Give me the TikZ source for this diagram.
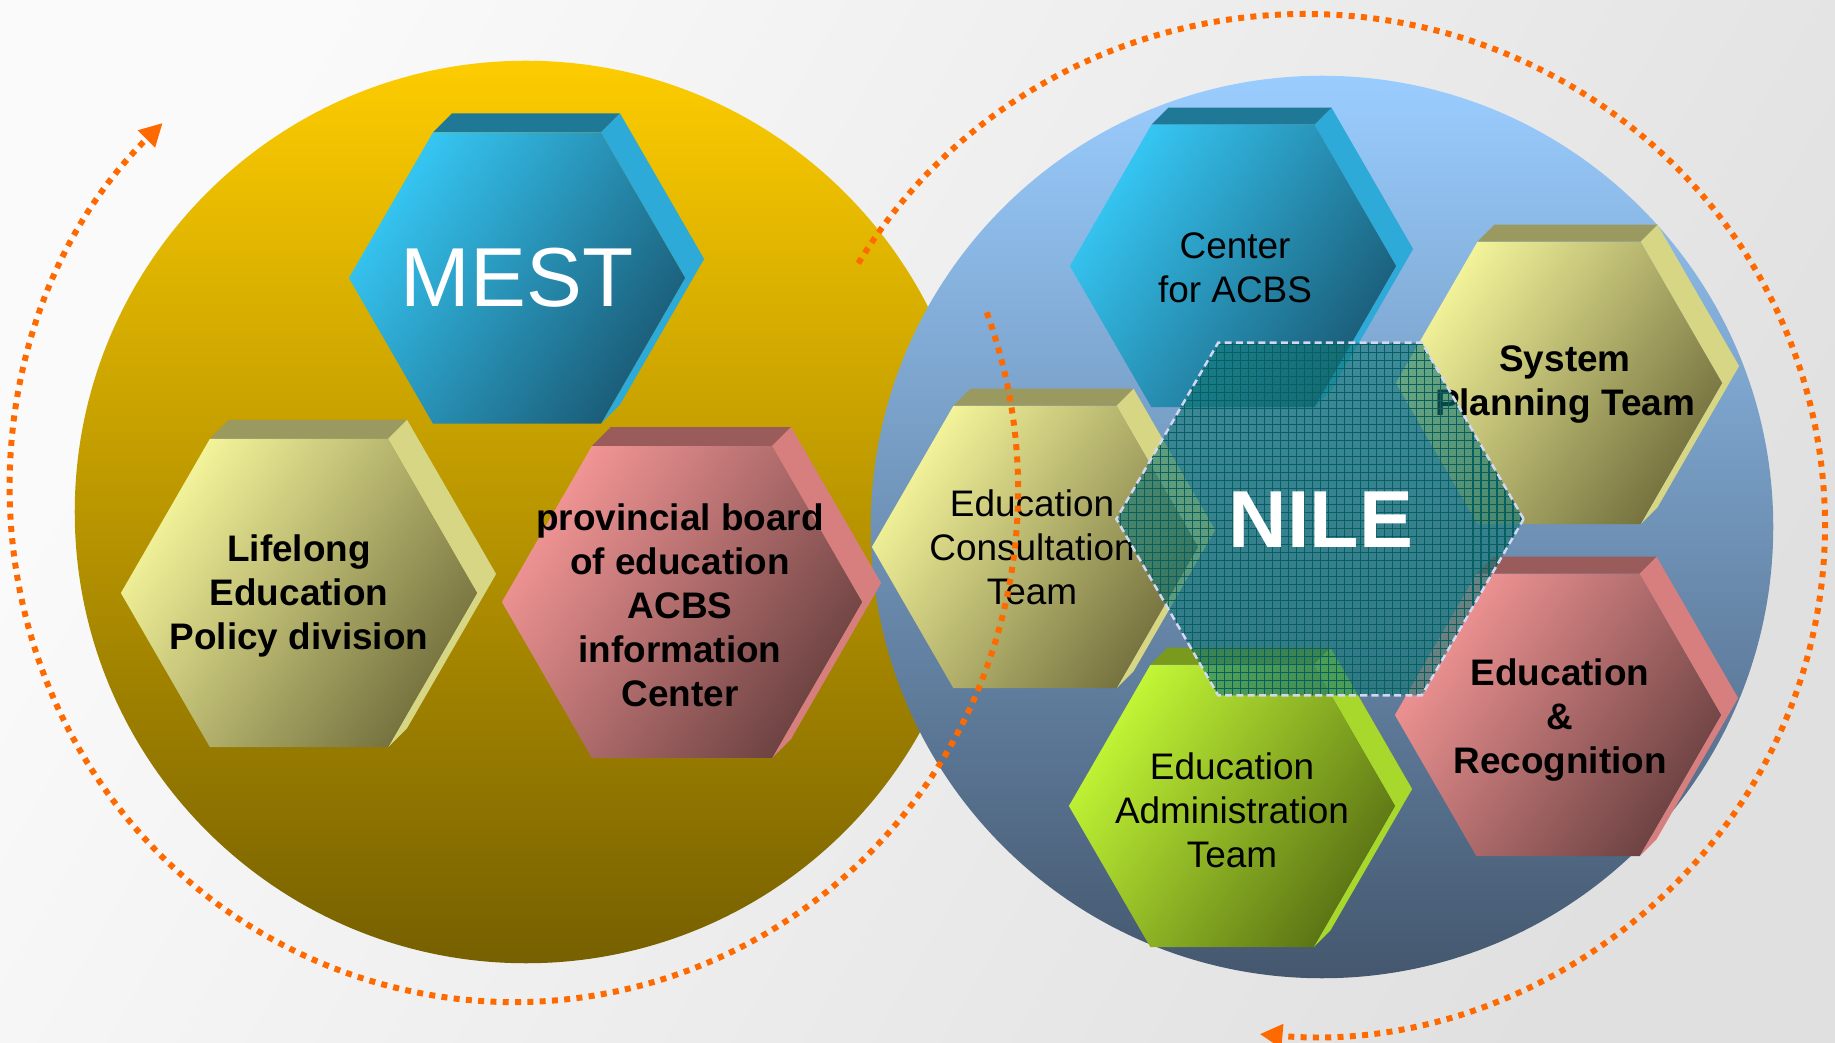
\documentclass[tikz,border=0pt]{standalone}
\usepackage{fontspec}
\setmainfont{Liberation Sans}
\usetikzlibrary{shapes.geometric,arrows.meta}

\definecolor{ltblu}{HTML}{36C8F5}
\definecolor{dkblu}{HTML}{1A5B76}
\definecolor{tpblu}{HTML}{1F7896}
\definecolor{sdblu}{HTML}{2DAAD7}
\definecolor{ltolv}{HTML}{F6F69C}
\definecolor{dkolv}{HTML}{73703E}
\definecolor{tpolv}{HTML}{9A9960}
\definecolor{sdolv}{HTML}{D7D684}
\definecolor{ltros}{HTML}{F49696}
\definecolor{dkros}{HTML}{6B4141}
\definecolor{tpros}{HTML}{9A5B5B}
\definecolor{sdros}{HTML}{D77F7F}
\definecolor{ltlim}{HTML}{C4F936}
\definecolor{dklim}{HTML}{5A7214}
\definecolor{tplim}{HTML}{7A9A1E}
\definecolor{sdlim}{HTML}{A8D82B}
\definecolor{goldtop}{HTML}{FDCC00}
\definecolor{goldbot}{HTML}{766000}
\definecolor{skytop}{HTML}{9ACDFF}
\definecolor{skybot}{HTML}{44576E}
\definecolor{nilefill}{HTML}{127675}
\definecolor{nilegrid}{HTML}{05605F}
\definecolor{nileedge}{HTML}{D4D6F2}
\definecolor{orbitor}{HTML}{FF6A00}

\pgfdeclarelayer{back}
\pgfdeclarelayer{side}
\pgfsetlayers{back,side,main}

\begin{document}
\begin{tikzpicture}[x=0.01cm, y=-0.01cm,
  hexfront/.style={regular polygon, regular polygon sides=6, inner sep=0pt, outer sep=0pt, minimum size=#1},
  disc/.style={circle, inner sep=0pt, outer sep=0pt, minimum size=9.02cm},
  lbl/.style={align=center, font=\fontsize{10.5}{12.5}\selectfont},
  lblb/.style={align=center, font=\fontsize{10.5}{12.5}\selectfont\bfseries},
  orbit/.style={draw=orbitor, line width=1.7pt, dash pattern=on 1.7pt off 1.8pt, -{Triangle[length=6.5pt, width=6.5pt]}}]

  \useasboundingbox (0,0) rectangle (1835,1043);
  \begin{pgfonlayer}{back}
    \fill[top color=gray!4, bottom color=gray!24, shading angle=60] (0,0) rectangle (1835,1043);
    \node[disc, top color=goldtop, bottom color=goldbot] (mestdisc) at (526,512) {};
    \node[disc, top color=skytop, bottom color=skybot] (niledisc) at (1322,527) {};
  \end{pgfonlayer}

  % hexagon blocks: front face + top and side faces behind it
  \foreach \hx/\px/\py/\hs/\ex/\tone in {mest/517/278/3.36cm/19/blu, life/299/593/3.56cm/19/olv,
      prov/682/602/3.6cm/19/ros, acbs/1233/266/3.26cm/17/blu, plan/1559/383/3.26cm/17/olv,
      cons/1035/547/3.26cm/17/olv, admin/1232/806/3.26cm/17/lim, recog/1558/715/3.26cm/17/ros}{
    \node[hexfront=\hs, top color=lt\tone, bottom color=dk\tone, shading angle=55] (\hx) at (\px,\py) {};
    \begin{pgfonlayer}{side}
      \fill[tp\tone] (\hx.120) -- (\hx.60) -- ([shift={(\ex,-\ex)}]\hx.60) -- ([shift={(\ex,-\ex)}]\hx.120) -- cycle;
      \fill[sd\tone] (\hx.60) -- (\hx.0) -- (\hx.-60) -- ([shift={(\ex,-\ex)}]\hx.-60)
        -- ([shift={(\ex,-\ex)}]\hx.0) -- ([shift={(\ex,-\ex)}]\hx.60) -- cycle;
    \end{pgfonlayer}
  }

  \node[white, font=\fontsize{23.8}{28}\selectfont] (mest-t) at (mest) {MEST};
  \node[lblb] (life-t) at (299,596) {Lifelong\\Education\\Policy division};
  \node[lblb] (prov-t) at (680,605) {provincial board\\of education\\ACBS\\information\\Center};
  \node[lbl] (acbs-t) at (1235,268) {Center\\for ACBS};
  \node[lblb] (plan-t) at (1565,385) {System\\Planning Team};
  \node[lbl] (cons-t) at (1032,547) {Education\\Consultation\\Team};
  \node[lbl] (admin-t) at (1232,810) {Education\\Administration\\Team};
  \node[lblb] (recog-t) at (1560,720) {Education\\\&\\Recognition};

  % NILE overlay
  \node[hexfront=4.07cm, fill=nilefill, fill opacity=0.6] (nile) at (1320,519) {};
  \begin{scope}
    \clip (nile.0) -- (nile.60) -- (nile.120) -- (nile.180) -- (nile.240) -- (nile.300) -- cycle;
    \draw[nilegrid, line width=0.35pt, step=0.08cm] (1104,336) grid (1536,704);
  \end{scope}
  \draw[nileedge, line width=0.7pt, dash pattern=on 2pt off 1.2pt]
    (nile.0) -- (nile.60) -- (nile.120) -- (nile.180) -- (nile.240) -- (nile.300) -- cycle;
  \node[white, font=\fontsize{23}{28}\selectfont\bfseries] (nile-t) at (1321,520) {NILE};

  \coordinate (loopL) at (986.7,312.4);
  \coordinate (loopR) at (858.3,263.4);
  \draw[orbit] (loopL) arc[start angle=-20.3, end angle=225.8, x radius=504, y radius=512];
  \draw[orbit] (loopR) arc[start angle=-149.2, end angle=95, x radius=520, y radius=511];
\end{tikzpicture}
\end{document}
